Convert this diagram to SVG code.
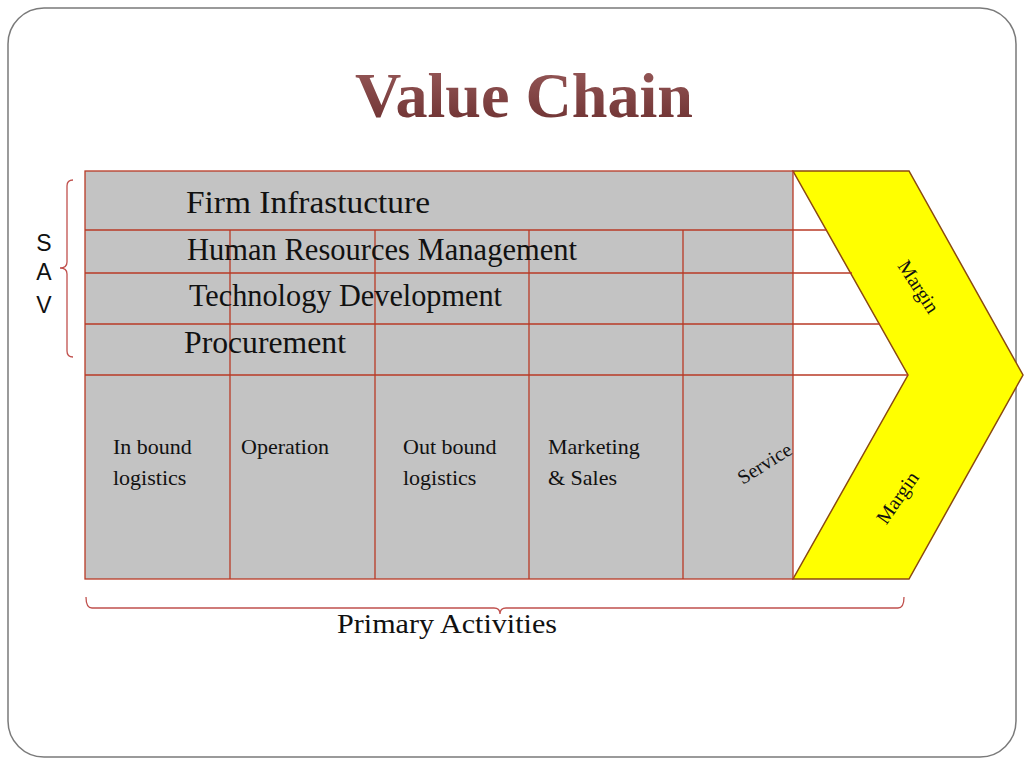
<svg xmlns="http://www.w3.org/2000/svg" width="1024" height="768" viewBox="0 0 1024 768">
  <defs>
    <linearGradient id="titleGrad" x1="0" y1="0" x2="0" y2="1">
      <stop offset="0" stop-color="#9a5c5c"/>
      <stop offset="1" stop-color="#6a2e2e"/>
    </linearGradient>
    <style>
      .grid { stroke: #b83a26; stroke-width: 1.3; fill: none; }
      .sup { font-family: "Liberation Serif", "Times New Roman", serif; font-size: 31px; fill: #111; }
      .pri { font-family: "Liberation Serif", "Times New Roman", serif; font-size: 22px; fill: #111; }
      .rot { font-family: "Liberation Serif", "Times New Roman", serif; font-size: 20px; fill: #111; text-anchor: middle; }
      .brace { stroke: #c0504d; stroke-width: 1.3; fill: none; }
    </style>
  </defs>
  <rect x="0" y="0" width="1024" height="768" fill="#ffffff"/>
  <rect x="8" y="8" width="1008" height="749" rx="36" ry="36" fill="#ffffff" stroke="#7a7a7a" stroke-width="1.5"/>

  <text id="title" x="524" y="117" text-anchor="middle" font-family="Liberation Serif, Times New Roman, serif" font-weight="bold" font-size="64" fill="url(#titleGrad)" textLength="338" lengthAdjust="spacingAndGlyphs">Value Chain</text>

  <g id="grid-background">
    <rect x="85" y="171" width="708" height="408" fill="#c3c3c3"/>
  </g>

  <g id="margin-chevron">
    <polygon points="793,171 909,171 1023,375 909,579 793,579 908,375" fill="#ffff00" stroke="#8b4a10" stroke-width="1.5"/>
    <g transform="translate(918,287) rotate(57)"><text class="rot" x="0" y="6">Margin</text></g>
    <g transform="translate(898,498) rotate(-55)"><text class="rot" x="0" y="6">Margin</text></g>
  </g>

  <g id="connectors">
    <rect class="grid" x="85" y="171" width="708" height="408"/>
    <line class="grid" x1="85" y1="230" x2="827" y2="230"/>
    <line class="grid" x1="85" y1="273" x2="852" y2="273"/>
    <line class="grid" x1="85" y1="324" x2="880" y2="324"/>
    <line class="grid" x1="85" y1="375" x2="908" y2="375"/>
    <line class="grid" x1="230" y1="230" x2="230" y2="579"/>
    <line class="grid" x1="375" y1="230" x2="375" y2="579"/>
    <line class="grid" x1="529" y1="230" x2="529" y2="579"/>
    <line class="grid" x1="683" y1="230" x2="683" y2="579"/>
  </g>

  <g id="support-activities">
    <text class="sup" x="186" y="213" textLength="244" lengthAdjust="spacingAndGlyphs">Firm Infrastucture</text>
    <text class="sup" x="187" y="260" textLength="390" lengthAdjust="spacingAndGlyphs">Human Resources Management</text>
    <text class="sup" x="189" y="306" textLength="313" lengthAdjust="spacingAndGlyphs">Technology Development</text>
    <text class="sup" x="184" y="353" textLength="162" lengthAdjust="spacingAndGlyphs">Procurement</text>
  </g>

  <g id="primary-activities">
    <g id="inbound"><text class="pri" x="113" y="454">In bound</text><text class="pri" x="113" y="485">logistics</text></g>
    <g id="operation"><text class="pri" x="241" y="454">Operation</text></g>
    <g id="outbound"><text class="pri" x="403" y="454">Out bound</text><text class="pri" x="403" y="485">logistics</text></g>
    <g id="marketing"><text class="pri" x="548" y="454">Marketing</text><text class="pri" x="548" y="485">&amp; Sales</text></g>
    <g id="service" transform="translate(765,464) rotate(-32)"><text class="rot" x="0" y="6">Service</text></g>
  </g>

  <g id="sav">
    <path class="brace" d="M73,180 Q67,180 67,186 L67,262 Q67,268 60,268 Q67,268 67,274 L67,351 Q67,357 73,357"/>
    <text x="44" y="251" text-anchor="middle" font-family="Liberation Sans, Arial, sans-serif" font-size="23" fill="#111">S</text>
    <text x="44" y="280" text-anchor="middle" font-family="Liberation Sans, Arial, sans-serif" font-size="23" fill="#111">A</text>
    <text x="44" y="313" text-anchor="middle" font-family="Liberation Sans, Arial, sans-serif" font-size="23" fill="#111">V</text>
  </g>

  <g id="primary-label">
    <path class="brace" d="M86,597 Q86,608 92,608 L494,608 Q500,608 500,614 Q500,608 506,608 L898,608 Q904,608 904,597"/>
    <text x="337" y="633" font-family="Liberation Serif, Times New Roman, serif" font-size="28" fill="#111" textLength="220" lengthAdjust="spacingAndGlyphs">Primary Activities</text>
  </g>
</svg>
